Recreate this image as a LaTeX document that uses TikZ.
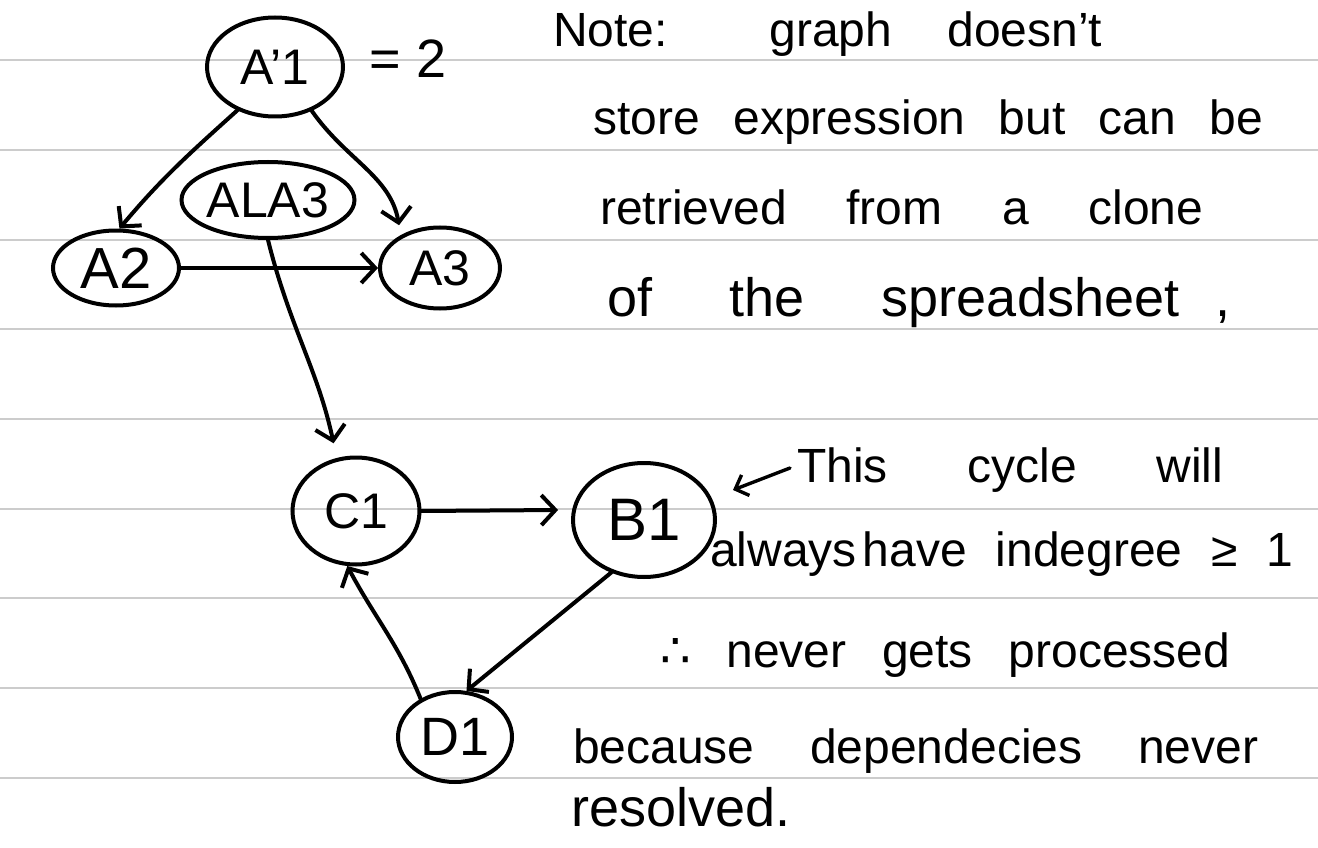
\documentclass[tikz,border=0pt]{standalone}
\usepackage{fontspec}
\setmainfont{Liberation Sans}
\newfontfamily\symfont{DejaVu Sans}
\usetikzlibrary{arrows.meta,shapes.geometric}
\begin{document}
\begin{tikzpicture}[x=1pt,y=1pt]
\tikzset{
  ruled/.style={draw=black!20, line width=2pt},
  cell/.style={draw, ellipse, line width=4pt, inner sep=0pt,
    font=\fontsize{50}{50}\selectfont},
  link/.style={line width=4pt, line cap=round,
    -{Straight Barb[length=14pt,width=30pt,line width=4pt]}},
  note/.style={anchor=base west, inner sep=0pt,
    font=\fontsize{48}{48}\selectfont}
}
\useasboundingbox (0,0) rectangle (1318,-848);
\fill[white] (0,0) rectangle (1318,-848);
\foreach \yy in {60,150,240,329,419,509,598,688,778}
  \draw[ruled] (0,-\yy) -- (1318,-\yy);

% nodes
\node[cell, minimum width=136pt, minimum height=99pt] (A1) at (275,-67) {A’1};
\node[anchor=center, inner sep=0pt, font=\fontsize{54}{54}\selectfont] (eq) at (408,-59) {= 2};
\node[cell, minimum width=169pt, minimum height=76pt] (ALA3) at (268,-200) {ALA3};
\node[cell, minimum width=126pt, minimum height=75pt, font=\fontsize{58}{58}\selectfont] (A2) at (116,-268) {A2};
\node[cell, minimum width=120pt, minimum height=81pt] (A3) at (440,-268) {A3};
\node[cell, minimum width=127pt, minimum height=107pt] (C1) at (356,-511) {C1};
\node[cell, minimum width=142pt, minimum height=114pt, font=\fontsize{60}{60}\selectfont] (B1) at (644,-520) {B1};
\node[cell, minimum width=114pt, minimum height=90pt, font=\fontsize{54}{54}\selectfont] (D1) at (455,-737) {D1};

% edges
\draw[link] (A1.-131) to[out=-138,in=50] (A2.85);
\draw[link, shorten >=10pt] (A1.-50) to[out=-55,in=100] (A3.140);
\draw[link] (A2.east) -- (A3.west);
\draw[link, shorten >=15pt] (ALA3.south) to[out=-76,in=102] (C1.110);
\draw[link, shorten >=14pt] (C1.east) -- (B1.172);
\draw[link] (B1.-122) -- (D1.76);
\draw[link] (D1.132) to[out=112,in=-62] (C1.-99);

% notes
\node[note] (n1) at (553,-47) {\makebox[549pt][s]{Note: graph doesn’t}};
\node[note] (n2) at (593,-135) {\makebox[670pt][s]{store expression but can be}};
\node[note] (n3) at (600,-224) {\makebox[603pt][s]{retrieved from a clone}};
\node[note, font=\fontsize{54}{54}\selectfont] (n4) at (607,-316) {\makebox[623pt][s]{of the spreadsheet\hspace{36pt},}};
\node[note] (n5) at (797,-482) {\makebox[426pt][s]{This cycle will}};
\coordinate (cyctip) at (733,-490);
\draw[link, line width=3.4pt, -{Straight Barb[length=11pt,width=22pt,line width=3.4pt]}]
  ([shift={(-7,14)}]n5.base west) -- (cyctip);
\node[note] (n6) at (710,-566) {\makebox[583pt][s]{always\hspace{6pt}have indegree ≥ 1}};
\node[note] (n7) at (660,-667) {\makebox[570pt][s]{{\symfont ∴} never gets processed}};
\node[note] (n8) at (573,-763) {\makebox[685pt][s]{because dependecies never}};
\node[note, font=\fontsize{54}{54}\selectfont] (n9) at (571,-826) {resolved.};
\end{tikzpicture}
\end{document}
